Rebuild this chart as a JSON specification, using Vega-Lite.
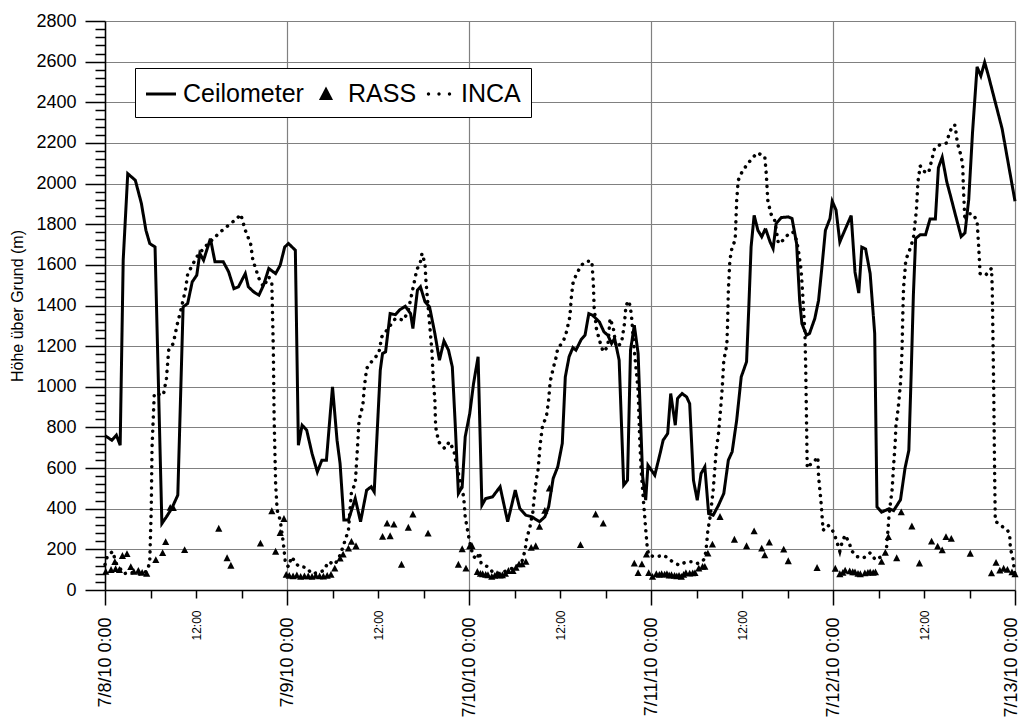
{
  "$schema": "https://vega.github.io/schema/vega-lite/v6.json",
  "width": 910,
  "height": 569,
  "autosize": {"type": "none"},
  "padding": {"left": 105, "top": 21, "right": 6, "bottom": 127},
  "background": "white",
  "datasets": {
    "ceil": [
      {"series":"Ceilometer","h":0,"v":760},{"series":"Ceilometer","h":0.9,"v":737},{"series":"Ceilometer","h":1.5,"v":762},{"series":"Ceilometer","h":2,"v":713},{"series":"Ceilometer","h":2.4,"v":1623},{"series":"Ceilometer","h":3.0,"v":2049},{"series":"Ceilometer","h":4.0,"v":2016},{"series":"Ceilometer","h":4.8,"v":1902},{"series":"Ceilometer","h":5.4,"v":1770},{"series":"Ceilometer","h":5.9,"v":1705},{"series":"Ceilometer","h":6.6,"v":1688},{"series":"Ceilometer","h":7.5,"v":327},{"series":"Ceilometer","h":8.1,"v":360},{"series":"Ceilometer","h":8.8,"v":401},{"series":"Ceilometer","h":9.6,"v":467},{"series":"Ceilometer","h":10.3,"v":1393},{"series":"Ceilometer","h":10.9,"v":1410},{"series":"Ceilometer","h":11.5,"v":1516},{"series":"Ceilometer","h":12.1,"v":1549},{"series":"Ceilometer","h":12.5,"v":1656},{"series":"Ceilometer","h":13.0,"v":1623},{"series":"Ceilometer","h":13.9,"v":1729},{"series":"Ceilometer","h":14.5,"v":1615},{"series":"Ceilometer","h":15.6,"v":1615},{"series":"Ceilometer","h":16.3,"v":1566},{"series":"Ceilometer","h":17.0,"v":1483},{"series":"Ceilometer","h":17.6,"v":1492},{"series":"Ceilometer","h":18.5,"v":1557},{"series":"Ceilometer","h":18.9,"v":1492},{"series":"Ceilometer","h":19.6,"v":1467},{"series":"Ceilometer","h":20.3,"v":1451},{"series":"Ceilometer","h":20.9,"v":1500},{"series":"Ceilometer","h":21.6,"v":1582},{"series":"Ceilometer","h":22.5,"v":1557},{"series":"Ceilometer","h":23.1,"v":1598},{"series":"Ceilometer","h":23.7,"v":1688},{"series":"Ceilometer","h":24.2,"v":1705},{"series":"Ceilometer","h":25.1,"v":1672},{"series":"Ceilometer","h":25.5,"v":713},{"series":"Ceilometer","h":26.0,"v":811},{"series":"Ceilometer","h":26.6,"v":786},{"series":"Ceilometer","h":27.3,"v":672},{"series":"Ceilometer","h":28.0,"v":581},{"series":"Ceilometer","h":28.6,"v":639},{"series":"Ceilometer","h":29.2,"v":639},{"series":"Ceilometer","h":30.0,"v":1000},{"series":"Ceilometer","h":30.6,"v":737},{"series":"Ceilometer","h":31.0,"v":622},{"series":"Ceilometer","h":31.5,"v":344},{"series":"Ceilometer","h":32.1,"v":344},{"series":"Ceilometer","h":33.0,"v":450},{"series":"Ceilometer","h":33.7,"v":336},{"series":"Ceilometer","h":34.5,"v":491},{"series":"Ceilometer","h":35.1,"v":508},{"series":"Ceilometer","h":35.5,"v":483},{"series":"Ceilometer","h":36.3,"v":1082},{"series":"Ceilometer","h":36.6,"v":1164},{"series":"Ceilometer","h":37.0,"v":1172},{"series":"Ceilometer","h":37.6,"v":1360},{"series":"Ceilometer","h":38.3,"v":1355},{"series":"Ceilometer","h":38.9,"v":1380},{"series":"Ceilometer","h":39.6,"v":1396},{"series":"Ceilometer","h":40.3,"v":1360},{"series":"Ceilometer","h":40.6,"v":1287},{"series":"Ceilometer","h":41.2,"v":1475},{"series":"Ceilometer","h":41.6,"v":1492},{"series":"Ceilometer","h":42.2,"v":1418},{"series":"Ceilometer","h":42.8,"v":1393},{"series":"Ceilometer","h":43.5,"v":1262},{"series":"Ceilometer","h":44.1,"v":1131},{"series":"Ceilometer","h":44.7,"v":1226},{"series":"Ceilometer","h":45.3,"v":1180},{"series":"Ceilometer","h":45.8,"v":1098},{"series":"Ceilometer","h":46.2,"v":803},{"series":"Ceilometer","h":46.6,"v":475},{"series":"Ceilometer","h":47.1,"v":508},{"series":"Ceilometer","h":47.5,"v":754},{"series":"Ceilometer","h":48.1,"v":869},{"series":"Ceilometer","h":48.6,"v":1016},{"series":"Ceilometer","h":49.2,"v":1148},{"series":"Ceilometer","h":49.7,"v":417},{"series":"Ceilometer","h":50.2,"v":450},{"series":"Ceilometer","h":51.1,"v":458},{"series":"Ceilometer","h":52.1,"v":508},{"series":"Ceilometer","h":53.1,"v":336},{"series":"Ceilometer","h":54.1,"v":491},{"series":"Ceilometer","h":54.7,"v":401},{"series":"Ceilometer","h":55.5,"v":368},{"series":"Ceilometer","h":56.3,"v":360},{"series":"Ceilometer","h":57.3,"v":336},{"series":"Ceilometer","h":58.0,"v":360},{"series":"Ceilometer","h":58.5,"v":409},{"series":"Ceilometer","h":59.1,"v":549},{"series":"Ceilometer","h":59.7,"v":606},{"series":"Ceilometer","h":60.3,"v":721},{"series":"Ceilometer","h":60.7,"v":1049},{"series":"Ceilometer","h":61.2,"v":1148},{"series":"Ceilometer","h":61.7,"v":1193},{"series":"Ceilometer","h":62.1,"v":1180},{"series":"Ceilometer","h":62.8,"v":1233},{"series":"Ceilometer","h":63.3,"v":1254},{"series":"Ceilometer","h":63.8,"v":1360},{"series":"Ceilometer","h":64.3,"v":1352},{"series":"Ceilometer","h":65.2,"v":1319},{"series":"Ceilometer","h":65.8,"v":1270},{"series":"Ceilometer","h":66.3,"v":1254},{"series":"Ceilometer","h":66.8,"v":1213},{"series":"Ceilometer","h":67.2,"v":1238},{"series":"Ceilometer","h":67.8,"v":1131},{"series":"Ceilometer","h":68.4,"v":516},{"series":"Ceilometer","h":68.9,"v":540},{"series":"Ceilometer","h":69.3,"v":1180},{"series":"Ceilometer","h":69.8,"v":1303},{"series":"Ceilometer","h":70.3,"v":1164},{"series":"Ceilometer","h":70.9,"v":557},{"series":"Ceilometer","h":71.3,"v":442},{"series":"Ceilometer","h":71.6,"v":614},{"series":"Ceilometer","h":72.5,"v":565},{"series":"Ceilometer","h":73.2,"v":672},{"series":"Ceilometer","h":73.6,"v":737},{"series":"Ceilometer","h":74.2,"v":770},{"series":"Ceilometer","h":74.6,"v":967},{"series":"Ceilometer","h":75.2,"v":811},{"series":"Ceilometer","h":75.5,"v":942},{"series":"Ceilometer","h":76.1,"v":967},{"series":"Ceilometer","h":76.7,"v":950},{"series":"Ceilometer","h":77.1,"v":917},{"series":"Ceilometer","h":77.6,"v":540},{"series":"Ceilometer","h":78.1,"v":442},{"series":"Ceilometer","h":78.6,"v":573},{"series":"Ceilometer","h":79.1,"v":606},{"series":"Ceilometer","h":79.6,"v":376},{"series":"Ceilometer","h":80.2,"v":368},{"series":"Ceilometer","h":80.9,"v":417},{"series":"Ceilometer","h":81.6,"v":475},{"series":"Ceilometer","h":82.2,"v":639},{"series":"Ceilometer","h":82.7,"v":680},{"series":"Ceilometer","h":83.3,"v":836},{"series":"Ceilometer","h":83.9,"v":1049},{"series":"Ceilometer","h":84.6,"v":1123},{"series":"Ceilometer","h":84.9,"v":1393},{"series":"Ceilometer","h":85.2,"v":1688},{"series":"Ceilometer","h":85.6,"v":1844},{"series":"Ceilometer","h":86.1,"v":1770},{"series":"Ceilometer","h":86.6,"v":1738},{"series":"Ceilometer","h":87.1,"v":1779},{"series":"Ceilometer","h":87.7,"v":1713},{"series":"Ceilometer","h":88.1,"v":1680},{"series":"Ceilometer","h":88.5,"v":1803},{"series":"Ceilometer","h":89.2,"v":1833},{"series":"Ceilometer","h":90.1,"v":1836},{"series":"Ceilometer","h":90.6,"v":1828},{"series":"Ceilometer","h":91.2,"v":1705},{"series":"Ceilometer","h":91.6,"v":1426},{"series":"Ceilometer","h":91.9,"v":1311},{"series":"Ceilometer","h":92.5,"v":1254},{"series":"Ceilometer","h":92.9,"v":1262},{"series":"Ceilometer","h":93.6,"v":1336},{"series":"Ceilometer","h":94.1,"v":1426},{"series":"Ceilometer","h":94.5,"v":1574},{"series":"Ceilometer","h":95.0,"v":1770},{"series":"Ceilometer","h":95.6,"v":1828},{"series":"Ceilometer","h":95.9,"v":1913},{"series":"Ceilometer","h":96.4,"v":1870},{"series":"Ceilometer","h":96.9,"v":1713},{"series":"Ceilometer","h":97.6,"v":1774},{"series":"Ceilometer","h":98.4,"v":1843},{"series":"Ceilometer","h":98.9,"v":1565},{"series":"Ceilometer","h":99.4,"v":1461},{"series":"Ceilometer","h":99.8,"v":1687},{"series":"Ceilometer","h":100.3,"v":1678},{"series":"Ceilometer","h":100.9,"v":1557},{"series":"Ceilometer","h":101.5,"v":1261},{"series":"Ceilometer","h":101.8,"v":409},{"series":"Ceilometer","h":102.4,"v":383},{"series":"Ceilometer","h":103.4,"v":400},{"series":"Ceilometer","h":104.0,"v":391},{"series":"Ceilometer","h":104.9,"v":444},{"series":"Ceilometer","h":105.5,"v":600},{"series":"Ceilometer","h":106.0,"v":687},{"series":"Ceilometer","h":106.3,"v":1052},{"series":"Ceilometer","h":106.6,"v":1452},{"series":"Ceilometer","h":106.9,"v":1730},{"series":"Ceilometer","h":107.5,"v":1748},{"series":"Ceilometer","h":108.2,"v":1748},{"series":"Ceilometer","h":108.8,"v":1826},{"series":"Ceilometer","h":109.5,"v":1826},{"series":"Ceilometer","h":109.9,"v":2078},{"series":"Ceilometer","h":110.4,"v":2130},{"series":"Ceilometer","h":111.0,"v":2009},{"series":"Ceilometer","h":111.5,"v":1939},{"series":"Ceilometer","h":112.1,"v":1852},{"series":"Ceilometer","h":112.9,"v":1739},{"series":"Ceilometer","h":113.4,"v":1757},{"series":"Ceilometer","h":113.9,"v":1922},{"series":"Ceilometer","h":114.4,"v":2252},{"series":"Ceilometer","h":115.0,"v":2574},{"series":"Ceilometer","h":115.5,"v":2530},{"series":"Ceilometer","h":116.0,"v":2597},{"series":"Ceilometer","h":116.5,"v":2530},{"series":"Ceilometer","h":118.3,"v":2270},{"series":"Ceilometer","h":120,"v":1913}
    ],
    "inca": [
      {"series":"INCA","h":0,"v":125},{"series":"INCA","h":0.3,"v":165},{"series":"INCA","h":1.0,"v":190},{"series":"INCA","h":1.5,"v":130},{"series":"INCA","h":2.1,"v":100},{"series":"INCA","h":2.5,"v":80},{"series":"INCA","h":3.3,"v":88},{"series":"INCA","h":4.0,"v":80},{"series":"INCA","h":4.8,"v":78},{"series":"INCA","h":5.6,"v":95},{"series":"INCA","h":5.9,"v":140},{"series":"INCA","h":6.1,"v":400},{"series":"INCA","h":6.2,"v":700},{"series":"INCA","h":6.5,"v":967},{"series":"INCA","h":7.7,"v":959},{"series":"INCA","h":8.1,"v":1041},{"series":"INCA","h":8.4,"v":1180},{"series":"INCA","h":9.0,"v":1213},{"series":"INCA","h":9.5,"v":1303},{"series":"INCA","h":10.0,"v":1377},{"series":"INCA","h":10.6,"v":1475},{"series":"INCA","h":10.9,"v":1554},{"series":"INCA","h":11.5,"v":1598},{"series":"INCA","h":12.1,"v":1639},{"series":"INCA","h":12.8,"v":1672},{"series":"INCA","h":13.4,"v":1697},{"series":"INCA","h":14.3,"v":1729},{"series":"INCA","h":15.2,"v":1762},{"series":"INCA","h":16.3,"v":1795},{"series":"INCA","h":17.4,"v":1828},{"series":"INCA","h":17.9,"v":1849},{"series":"INCA","h":18.5,"v":1770},{"series":"INCA","h":19.2,"v":1705},{"series":"INCA","h":19.5,"v":1623},{"series":"INCA","h":20.3,"v":1533},{"series":"INCA","h":20.9,"v":1492},{"series":"INCA","h":21.6,"v":1541},{"series":"INCA","h":22.0,"v":1508},{"series":"INCA","h":22.2,"v":1180},{"series":"INCA","h":22.3,"v":852},{"series":"INCA","h":22.5,"v":524},{"series":"INCA","h":22.7,"v":393},{"series":"INCA","h":23.1,"v":344},{"series":"INCA","h":23.5,"v":237},{"series":"INCA","h":23.8,"v":130},{"series":"INCA","h":24.2,"v":114},{"series":"INCA","h":24.6,"v":163},{"series":"INCA","h":25.5,"v":117},{"series":"INCA","h":26.5,"v":111},{"series":"INCA","h":27.3,"v":80},{"series":"INCA","h":28.0,"v":85},{"series":"INCA","h":28.8,"v":95},{"series":"INCA","h":29.5,"v":139},{"series":"INCA","h":30.3,"v":125},{"series":"INCA","h":31.0,"v":171},{"series":"INCA","h":31.6,"v":237},{"series":"INCA","h":32.1,"v":294},{"series":"INCA","h":32.5,"v":483},{"series":"INCA","h":33.0,"v":524},{"series":"INCA","h":33.3,"v":704},{"series":"INCA","h":33.5,"v":836},{"series":"INCA","h":34.0,"v":909},{"series":"INCA","h":34.2,"v":1000},{"series":"INCA","h":34.5,"v":1090},{"series":"INCA","h":35.3,"v":1131},{"series":"INCA","h":36.1,"v":1164},{"series":"INCA","h":36.5,"v":1246},{"series":"INCA","h":37.0,"v":1270},{"series":"INCA","h":38.3,"v":1336},{"series":"INCA","h":39.4,"v":1328},{"series":"INCA","h":40.0,"v":1377},{"series":"INCA","h":40.7,"v":1500},{"series":"INCA","h":41.1,"v":1574},{"series":"INCA","h":41.6,"v":1615},{"series":"INCA","h":41.8,"v":1656},{"series":"INCA","h":42.2,"v":1606},{"series":"INCA","h":42.3,"v":1533},{"series":"INCA","h":42.5,"v":1442},{"series":"INCA","h":42.8,"v":1311},{"series":"INCA","h":43.1,"v":1180},{"series":"INCA","h":43.3,"v":1032},{"series":"INCA","h":43.5,"v":934},{"series":"INCA","h":43.6,"v":803},{"series":"INCA","h":44.0,"v":729},{"series":"INCA","h":44.8,"v":696},{"series":"INCA","h":45.4,"v":729},{"series":"INCA","h":46.0,"v":688},{"series":"INCA","h":46.4,"v":606},{"series":"INCA","h":46.9,"v":524},{"series":"INCA","h":47.3,"v":458},{"series":"INCA","h":47.5,"v":360},{"series":"INCA","h":48.0,"v":253},{"series":"INCA","h":48.5,"v":171},{"series":"INCA","h":49.0,"v":150},{"series":"INCA","h":49.4,"v":185},{"series":"INCA","h":49.6,"v":130},{"series":"INCA","h":50.5,"v":114},{"series":"INCA","h":51.1,"v":89},{"series":"INCA","h":52.0,"v":81},{"series":"INCA","h":52.9,"v":94},{"series":"INCA","h":54.0,"v":111},{"series":"INCA","h":54.9,"v":130},{"series":"INCA","h":55.4,"v":196},{"series":"INCA","h":55.6,"v":253},{"series":"INCA","h":56.0,"v":303},{"series":"INCA","h":56.2,"v":344},{"series":"INCA","h":56.4,"v":376},{"series":"INCA","h":56.6,"v":458},{"series":"INCA","h":56.9,"v":549},{"series":"INCA","h":57.1,"v":590},{"series":"INCA","h":57.4,"v":721},{"series":"INCA","h":57.7,"v":811},{"series":"INCA","h":58.2,"v":852},{"series":"INCA","h":58.5,"v":934},{"series":"INCA","h":58.7,"v":1024},{"series":"INCA","h":59.1,"v":1090},{"series":"INCA","h":59.5,"v":1147},{"series":"INCA","h":59.7,"v":1188},{"series":"INCA","h":60.4,"v":1221},{"series":"INCA","h":60.8,"v":1262},{"series":"INCA","h":61.3,"v":1344},{"series":"INCA","h":61.5,"v":1442},{"series":"INCA","h":61.7,"v":1508},{"series":"INCA","h":62.1,"v":1549},{"series":"INCA","h":62.8,"v":1598},{"series":"INCA","h":63.5,"v":1618},{"series":"INCA","h":64.2,"v":1618},{"series":"INCA","h":64.4,"v":1508},{"series":"INCA","h":64.5,"v":1393},{"series":"INCA","h":64.8,"v":1287},{"series":"INCA","h":65.2,"v":1229},{"series":"INCA","h":65.7,"v":1172},{"series":"INCA","h":66.3,"v":1197},{"series":"INCA","h":66.6,"v":1336},{"series":"INCA","h":67.0,"v":1295},{"series":"INCA","h":67.4,"v":1197},{"series":"INCA","h":68.1,"v":1213},{"series":"INCA","h":68.5,"v":1311},{"series":"INCA","h":68.7,"v":1401},{"series":"INCA","h":69.1,"v":1423},{"series":"INCA","h":69.4,"v":1360},{"series":"INCA","h":69.8,"v":1180},{"series":"INCA","h":70.3,"v":983},{"series":"INCA","h":70.5,"v":754},{"series":"INCA","h":70.7,"v":590},{"series":"INCA","h":71.0,"v":442},{"series":"INCA","h":71.3,"v":300},{"series":"INCA","h":71.5,"v":212},{"series":"INCA","h":71.7,"v":171},{"series":"INCA","h":72.6,"v":163},{"series":"INCA","h":73.7,"v":171},{"series":"INCA","h":74.7,"v":143},{"series":"INCA","h":75.7,"v":122},{"series":"INCA","h":76.7,"v":139},{"series":"INCA","h":77.6,"v":139},{"series":"INCA","h":78.1,"v":130},{"series":"INCA","h":78.7,"v":139},{"series":"INCA","h":79.1,"v":155},{"series":"INCA","h":79.3,"v":212},{"series":"INCA","h":79.5,"v":294},{"series":"INCA","h":79.8,"v":360},{"series":"INCA","h":80.2,"v":491},{"series":"INCA","h":80.5,"v":639},{"series":"INCA","h":80.6,"v":688},{"series":"INCA","h":80.9,"v":770},{"series":"INCA","h":81.2,"v":901},{"series":"INCA","h":81.4,"v":999},{"series":"INCA","h":81.6,"v":1131},{"series":"INCA","h":82.0,"v":1205},{"series":"INCA","h":82.1,"v":1311},{"series":"INCA","h":82.2,"v":1475},{"series":"INCA","h":82.4,"v":1623},{"series":"INCA","h":82.7,"v":1688},{"series":"INCA","h":83.1,"v":1721},{"series":"INCA","h":83.3,"v":1918},{"series":"INCA","h":83.5,"v":2016},{"series":"INCA","h":84.0,"v":2057},{"series":"INCA","h":84.6,"v":2090},{"series":"INCA","h":85.2,"v":2118},{"series":"INCA","h":86.0,"v":2151},{"series":"INCA","h":87.0,"v":2134},{"series":"INCA","h":87.2,"v":2049},{"series":"INCA","h":87.4,"v":1918},{"series":"INCA","h":87.8,"v":1852},{"series":"INCA","h":88.3,"v":1820},{"series":"INCA","h":88.8,"v":1705},{"series":"INCA","h":89.4,"v":1721},{"series":"INCA","h":90.0,"v":1746},{"series":"INCA","h":90.7,"v":1762},{"series":"INCA","h":91.2,"v":1721},{"series":"INCA","h":91.5,"v":1655},{"series":"INCA","h":91.8,"v":1574},{"series":"INCA","h":92.0,"v":1459},{"series":"INCA","h":92.3,"v":1262},{"series":"INCA","h":92.4,"v":1098},{"series":"INCA","h":92.5,"v":852},{"series":"INCA","h":92.6,"v":600},{"series":"INCA","h":92.9,"v":614},{"series":"INCA","h":93.5,"v":631},{"series":"INCA","h":94.0,"v":655},{"series":"INCA","h":94.1,"v":557},{"series":"INCA","h":94.4,"v":442},{"series":"INCA","h":94.7,"v":294},{"series":"INCA","h":95.3,"v":319},{"series":"INCA","h":95.8,"v":305},{"series":"INCA","h":96.3,"v":261},{"series":"INCA","h":96.9,"v":191},{"series":"INCA","h":97.2,"v":235},{"series":"INCA","h":97.6,"v":270},{"series":"INCA","h":98.1,"v":235},{"series":"INCA","h":98.5,"v":191},{"series":"INCA","h":99.1,"v":165},{"series":"INCA","h":100.0,"v":157},{"series":"INCA","h":100.9,"v":183},{"series":"INCA","h":101.6,"v":148},{"series":"INCA","h":102.4,"v":165},{"series":"INCA","h":103.0,"v":183},{"series":"INCA","h":103.2,"v":270},{"series":"INCA","h":103.4,"v":374},{"series":"INCA","h":103.8,"v":496},{"series":"INCA","h":104.0,"v":618},{"series":"INCA","h":104.2,"v":722},{"series":"INCA","h":104.3,"v":809},{"series":"INCA","h":104.6,"v":896},{"series":"INCA","h":104.9,"v":1018},{"series":"INCA","h":105.1,"v":1174},{"series":"INCA","h":105.2,"v":1348},{"series":"INCA","h":105.3,"v":1487},{"series":"INCA","h":105.5,"v":1574},{"series":"INCA","h":105.6,"v":1626},{"series":"INCA","h":106.0,"v":1661},{"series":"INCA","h":106.3,"v":1696},{"series":"INCA","h":106.6,"v":1730},{"series":"INCA","h":107.0,"v":1870},{"series":"INCA","h":107.2,"v":2009},{"series":"INCA","h":107.5,"v":2087},{"series":"INCA","h":107.9,"v":2061},{"series":"INCA","h":108.6,"v":2052},{"series":"INCA","h":109.0,"v":2113},{"series":"INCA","h":109.4,"v":2174},{"series":"INCA","h":110.1,"v":2191},{"series":"INCA","h":111.0,"v":2200},{"series":"INCA","h":111.3,"v":2244},{"series":"INCA","h":111.8,"v":2287},{"series":"INCA","h":112.1,"v":2287},{"series":"INCA","h":112.4,"v":2200},{"series":"INCA","h":112.8,"v":2148},{"series":"INCA","h":113.1,"v":2096},{"series":"INCA","h":113.2,"v":1974},{"series":"INCA","h":113.4,"v":1817},{"series":"INCA","h":113.8,"v":1852},{"series":"INCA","h":114.4,"v":1852},{"series":"INCA","h":115.0,"v":1817},{"series":"INCA","h":115.2,"v":1696},{"series":"INCA","h":115.4,"v":1557},{"series":"INCA","h":116.1,"v":1548},{"series":"INCA","h":116.9,"v":1583},{"series":"INCA","h":117.0,"v":1487},{"series":"INCA","h":117.1,"v":1226},{"series":"INCA","h":117.2,"v":965},{"series":"INCA","h":117.3,"v":618},{"series":"INCA","h":117.4,"v":339},{"series":"INCA","h":118.3,"v":313},{"series":"INCA","h":119.0,"v":296},{"series":"INCA","h":119.3,"v":270},{"series":"INCA","h":119.4,"v":200},{"series":"INCA","h":119.7,"v":165},{"series":"INCA","h":120,"v":70}
    ],
    "rass": [
      {"series":"RASS","h":0.1,"v":90},{"series":"RASS","h":0.8,"v":99},{"series":"RASS","h":1.3,"v":138},{"series":"RASS","h":1.4,"v":103},{"series":"RASS","h":1.9,"v":99},{"series":"RASS","h":2.3,"v":168},{"series":"RASS","h":2.9,"v":177},{"series":"RASS","h":3.4,"v":113},{"series":"RASS","h":3.8,"v":90},{"series":"RASS","h":4.4,"v":95},{"series":"RASS","h":4.9,"v":85},{"series":"RASS","h":5.5,"v":80},{"series":"RASS","h":6.7,"v":148},{"series":"RASS","h":7.6,"v":182},{"series":"RASS","h":8.0,"v":236},{"series":"RASS","h":8.6,"v":405},{"series":"RASS","h":9.0,"v":404},{"series":"RASS","h":10.5,"v":197},{"series":"RASS","h":15.0,"v":302},{"series":"RASS","h":16.1,"v":157},{"series":"RASS","h":16.6,"v":120},{"series":"RASS","h":20.5,"v":229},{"series":"RASS","h":22.0,"v":388},{"series":"RASS","h":22.5,"v":189},{"series":"RASS","h":23.1,"v":281},{"series":"RASS","h":23.6,"v":350},{"series":"RASS","h":23.9,"v":75},
      {"series":"RASS","h":24.3,"v":70},{"series":"RASS","h":24.8,"v":68},{"series":"RASS","h":25.3,"v":72},{"series":"RASS","h":25.8,"v":65},{"series":"RASS","h":26.3,"v":68},{"series":"RASS","h":26.8,"v":68},{"series":"RASS","h":27.3,"v":65},{"series":"RASS","h":27.8,"v":70},{"series":"RASS","h":28.3,"v":68},{"series":"RASS","h":28.8,"v":66},{"series":"RASS","h":29.3,"v":70},{"series":"RASS","h":29.8,"v":75},{"series":"RASS","h":30.3,"v":106},{"series":"RASS","h":31.0,"v":155},{"series":"RASS","h":31.4,"v":175},{"series":"RASS","h":32.1,"v":204},{"series":"RASS","h":32.5,"v":237},{"series":"RASS","h":33.1,"v":216},{"series":"RASS","h":36.6,"v":262},{"series":"RASS","h":37.2,"v":327},{"series":"RASS","h":37.6,"v":265},{"series":"RASS","h":38.1,"v":322},{"series":"RASS","h":39.1,"v":125},{"series":"RASS","h":40.0,"v":307},{"series":"RASS","h":40.6,"v":372},{"series":"RASS","h":42.6,"v":278},{"series":"RASS","h":46.6,"v":125},{"series":"RASS","h":47.1,"v":201},{"series":"RASS","h":47.6,"v":106},{"series":"RASS","h":48.1,"v":216},{"series":"RASS","h":48.4,"v":216},
      {"series":"RASS","h":49.1,"v":89},{"series":"RASS","h":49.5,"v":80},{"series":"RASS","h":49.8,"v":78},{"series":"RASS","h":50.2,"v":75},{"series":"RASS","h":50.5,"v":73},{"series":"RASS","h":51.0,"v":65},{"series":"RASS","h":51.4,"v":70},{"series":"RASS","h":51.7,"v":78},{"series":"RASS","h":52.1,"v":72},{"series":"RASS","h":52.4,"v":73},{"series":"RASS","h":52.8,"v":80},{"series":"RASS","h":53.2,"v":94},{"series":"RASS","h":53.8,"v":94},{"series":"RASS","h":54.2,"v":110},{"series":"RASS","h":54.6,"v":127},{"series":"RASS","h":55.0,"v":127},{"series":"RASS","h":55.5,"v":139},{"series":"RASS","h":56.2,"v":208},{"series":"RASS","h":56.8,"v":216},{"series":"RASS","h":57.3,"v":311},{"series":"RASS","h":58.0,"v":390},{"series":"RASS","h":58.6,"v":500},{"series":"RASS","h":62.7,"v":221},{"series":"RASS","h":64.7,"v":372},{"series":"RASS","h":65.7,"v":327},{"series":"RASS","h":69.8,"v":130},{"series":"RASS","h":70.3,"v":84},{"series":"RASS","h":70.8,"v":127},{"series":"RASS","h":71.4,"v":175},{"series":"RASS","h":71.7,"v":84},{"series":"RASS","h":72.2,"v":65},
      {"series":"RASS","h":72.7,"v":78},{"series":"RASS","h":73.1,"v":75},{"series":"RASS","h":73.4,"v":78},{"series":"RASS","h":73.8,"v":76},{"series":"RASS","h":74.1,"v":78},{"series":"RASS","h":74.4,"v":72},{"series":"RASS","h":74.7,"v":73},{"series":"RASS","h":75.1,"v":70},{"series":"RASS","h":75.4,"v":68},{"series":"RASS","h":75.7,"v":70},{"series":"RASS","h":76.0,"v":65},{"series":"RASS","h":76.3,"v":75},{"series":"RASS","h":76.6,"v":84},{"series":"RASS","h":77.1,"v":81},{"series":"RASS","h":77.5,"v":82},{"series":"RASS","h":77.8,"v":84},{"series":"RASS","h":78.3,"v":106},{"series":"RASS","h":78.8,"v":114},{"series":"RASS","h":79.1,"v":114},{"series":"RASS","h":79.5,"v":180},{"series":"RASS","h":80.1,"v":224},{"series":"RASS","h":81.1,"v":360},{"series":"RASS","h":83.0,"v":248},{"series":"RASS","h":84.6,"v":216},{"series":"RASS","h":85.6,"v":289},{"series":"RASS","h":86.6,"v":204},{"series":"RASS","h":87.0,"v":171},{"series":"RASS","h":87.6,"v":234},{"series":"RASS","h":89.5,"v":199},{"series":"RASS","h":90.1,"v":142},{"series":"RASS","h":93.9,"v":109},
      {"series":"RASS","h":96.3,"v":105},{"series":"RASS","h":96.9,"v":78},{"series":"RASS","h":97.3,"v":85},{"series":"RASS","h":97.6,"v":96},{"series":"RASS","h":98.2,"v":92},{"series":"RASS","h":98.6,"v":88},{"series":"RASS","h":98.9,"v":87},{"series":"RASS","h":99.3,"v":80},{"series":"RASS","h":99.6,"v":78},{"series":"RASS","h":100.2,"v":82},{"series":"RASS","h":100.6,"v":85},{"series":"RASS","h":100.9,"v":87},{"series":"RASS","h":101.3,"v":85},{"series":"RASS","h":101.6,"v":87},{"series":"RASS","h":102.4,"v":139},{"series":"RASS","h":102.9,"v":183},{"series":"RASS","h":103.3,"v":261},{"series":"RASS","h":104.4,"v":157},{"series":"RASS","h":105.0,"v":383},{"series":"RASS","h":106.4,"v":313},{"series":"RASS","h":107.4,"v":131},{"series":"RASS","h":109.0,"v":239},{"series":"RASS","h":109.8,"v":214},{"series":"RASS","h":110.4,"v":196},{"series":"RASS","h":110.9,"v":261},{"series":"RASS","h":111.6,"v":252},{"series":"RASS","h":114.1,"v":179},{"series":"RASS","h":116.9,"v":82},{"series":"RASS","h":117.5,"v":134},{"series":"RASS","h":118.0,"v":96},{"series":"RASS","h":118.5,"v":105},{"series":"RASS","h":119.0,"v":100},{"series":"RASS","h":119.6,"v":87},{"series":"RASS","h":120.0,"v":78}
    ]
  },
  "encoding": {
    "x": {
      "field": "h", "type": "quantitative",
      "scale": {"domain": [0, 120], "nice": false, "zero": false},
      "axis": {
        "title": null,
        "values": [0,6,12,18,24,30,36,42,48,54,60,66,72,78,84,90,96,102,108,114,120],
        "labelExpr": "datum.value % 24 === 0 ? '7/' + (8 + datum.value / 24) + '/10 0:00' : (datum.value % 24 === 12 ? '12:00' : '')",
        "labelAngle": 270,
        "labelOverlap": false,
        "labelFontSize": {"condition": {"test": "datum.value % 24 === 0", "value": 18}, "value": 12},
        "labelOffset": {"condition": {"test": "datum.value === 120", "value": -4}, "value": 0},
        "tickSize": {"condition": {"test": "datum.value % 24 === 0", "value": 15}, "value": 8},
        "gridOpacity": {"condition": {"test": "datum.value % 24 === 0", "value": 1}, "value": 0},
        "labelPadding": 12,
        "labelFlush": false
      }
    },
    "y": {
      "field": "v", "type": "quantitative",
      "scale": {"domain": [0, 2800], "nice": false},
      "axis": {
        "title": "Höhe über Grund (m)",
        "format": "d",
        "values": [0,40,80,120,160,200,240,280,320,360,400,440,480,520,560,600,640,680,720,760,800,840,880,920,960,1000,1040,1080,1120,1160,1200,1240,1280,1320,1360,1400,1440,1480,1520,1560,1600,1640,1680,1720,1760,1800,1840,1880,1920,1960,2000,2040,2080,2120,2160,2200,2240,2280,2320,2360,2400,2440,2480,2520,2560,2600,2640,2680,2720,2760,2800],
        "labelExpr": "datum.value % 200 === 0 ? datum.label : ''",
        "labelOverlap": false,
        "labelFontSize": 18,
        "tickSize": {"condition": {"test": "datum.value % 200 === 0", "value": 20}, "value": 10},
        "gridOpacity": {"condition": {"test": "datum.value % 200 === 0", "value": 1}, "value": 0},
        "labelPadding": 9,
        "labelFlush": false,
        "titleFontSize": 16,
        "titleFontWeight": "normal",
        "titlePadding": 10
      }
    }
  },
  "resolve": {"legend": {"strokeDash": "independent", "shape": "independent"}},
  "layer": [
    {
      "data": {"name": "inca"},
      "mark": {"type": "line", "color": "black", "strokeWidth": 3.5, "strokeCap": "round"},
      "encoding": {
        "strokeDash": {
          "field": "series", "type": "nominal",
          "scale": {"domain": ["Ceilometer", "RASS", "INCA"], "range": [[1, 0], [1, 0], [0.1, 7]]},
          "legend": null
        }
      }
    },
    {
      "data": {"name": "ceil"},
      "mark": {"type": "line", "color": "black", "strokeWidth": 3},
      "encoding": {
        "strokeDash": {
          "field": "series", "type": "nominal",
          "scale": {"domain": ["Ceilometer", "RASS", "INCA"], "range": [[1, 0], [1, 0], [0.1, 7]]},
          "legend": null
        }
      }
    },
    {
      "data": {"name": "rass"},
      "mark": {"type": "point", "filled": true, "color": "black", "size": 230, "opacity": 1},
      "encoding": {
        "shape": {
          "field": "series", "type": "nominal",
          "scale": {
            "domain": ["Ceilometer", "RASS", "INCA"],
            "range": [
              "M-1,-0.1H1V0.1H-1Z",
              "M0,-0.5L0.47,0.4L-0.47,0.4Z",
              "M-0.81,0A0.11,0.11 0 1,0 -0.59,0A0.11,0.11 0 1,0 -0.81,0Z M-0.11,0A0.11,0.11 0 1,0 0.11,0A0.11,0.11 0 1,0 -0.11,0Z M0.59,0A0.11,0.11 0 1,0 0.81,0A0.11,0.11 0 1,0 0.59,0Z"
            ]
          },
          "legend": {"title": null}
        }
      }
    }
  ],
  "config": {
    "view": {"stroke": null},
    "font": "Liberation Sans",
    "axis": {
      "labelFont": "Liberation Sans",
      "labelColor": "black",
      "titleFont": "Liberation Sans",
      "titleColor": "black",
      "domainColor": "black",
      "domainWidth": 1.5,
      "tickColor": "black",
      "tickWidth": 1.5,
      "gridColor": "#808080",
      "gridWidth": 1.2
    },
    "legend": {
      "orient": "none",
      "legendX": 30,
      "legendY": 47,
      "direction": "horizontal",
      "columns": 3,
      "labelFont": "Liberation Sans",
      "labelFontSize": 25,
      "labelColor": "black",
      "labelLimit": 0,
      "labelOffset": 6,
      "symbolSize": 900,
      "symbolOpacity": 1,
      "columnPadding": 6,
      "padding": 10,
      "strokeColor": "black",
      "fillColor": "white"
    }
  }
}
